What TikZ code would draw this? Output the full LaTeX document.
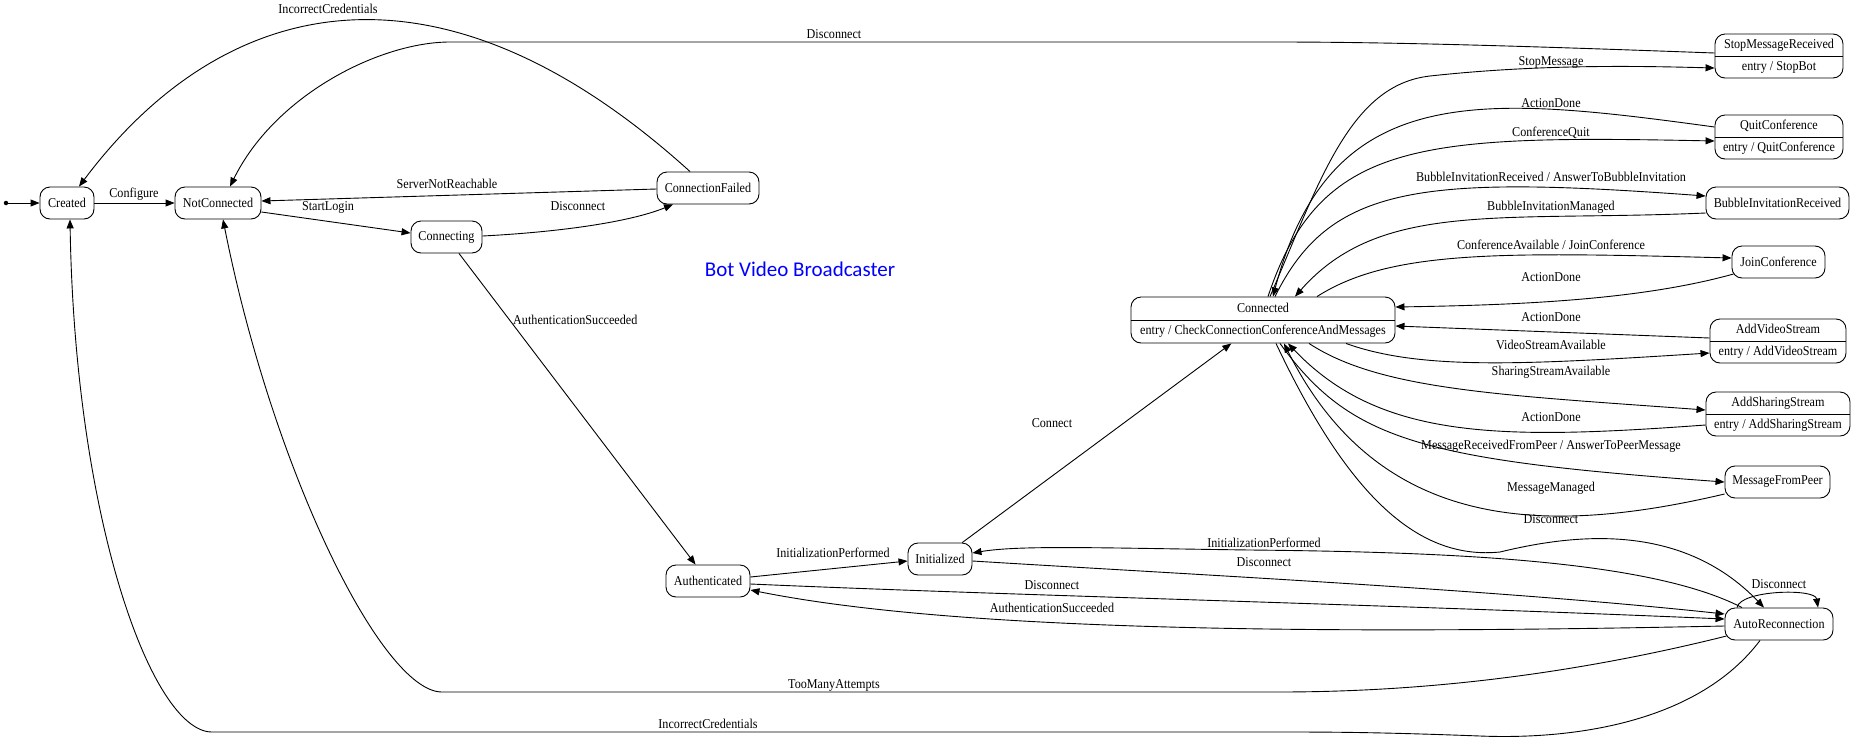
\documentclass[tikz,border=0pt]{standalone}
\usepackage{fontspec}
\setmainfont{Liberation Serif}[FakeStretch=0.9]
\newfontfamily\titlefont{Carlito}
\usetikzlibrary{arrows.meta,calc}
\newcommand{\stfont}{\fontsize{13.5}{16}\selectfont}
\begin{document}
\begin{tikzpicture}[x=1pt,y=-1pt,
  st/.style={draw, rounded corners=10pt, line width=0.9pt, inner sep=0pt, font=\stfont},
  lbl/.style={font=\stfont, inner sep=0pt, text height=9.5pt, text depth=3pt},
  arr/.style={line width=0.9pt, -{Triangle[length=9pt,width=7pt]}},
  ln/.style={line width=0.9pt}]
\fill[white] (0,0) rectangle (1855,745);
\useasboundingbox (0,0) rectangle (1855,745);

% title
\node[font=\titlefont\fontsize{21}{25}\selectfont, text=blue, inner sep=0pt] (title) at (800,269) {Bot Video Broadcaster};

% states
\node[circle, fill, inner sep=0pt, minimum size=4.5pt] (start) at (6,203) {};
\node[st, minimum width=54pt, minimum height=32pt] (created) at (67,203) {Created};
\node[st, minimum width=86pt, minimum height=32pt] (nc) at (218,203) {NotConnected};
\node[st, minimum width=71pt, minimum height=32pt] (conn) at (446.5,237) {Connecting};
\node[st, minimum width=102pt, minimum height=32pt] (cf) at (708,188) {ConnectionFailed};
\node[st, minimum width=84pt, minimum height=32pt] (auth) at (708,581) {Authenticated};
\node[st, minimum width=64pt, minimum height=32pt] (init) at (940,559) {Initialized};

\node[st, minimum width=264pt, minimum height=46pt] (connected) at (1263,320) {};
\draw[ln] (connected.west) -- (connected.east);
\node[lbl] (connectedA) at (1263,309) {Connected};
\node[lbl] (connectedB) at (1263,331) {entry / CheckConnectionConferenceAndMessages};

\node[st, minimum width=128pt, minimum height=44pt] (smr) at (1779,56) {};
\draw[ln] (smr.west) -- (smr.east);
\node[lbl] (smrA) at (1779,45) {StopMessageReceived};
\node[lbl] (smrB) at (1779,67) {entry / StopBot};

\node[st, minimum width=128pt, minimum height=44pt] (qc) at (1779,137) {};
\draw[ln] (qc.west) -- (qc.east);
\node[lbl] (qcA) at (1779,126) {QuitConference};
\node[lbl] (qcB) at (1779,148) {entry / QuitConference};

\node[st, minimum width=143pt, minimum height=32pt] (bir) at (1777.5,203) {BubbleInvitationReceived};
\node[st, minimum width=93pt, minimum height=32pt] (jc) at (1778.5,262) {JoinConference};

\node[st, minimum width=136pt, minimum height=44pt] (avs) at (1778,341) {};
\draw[ln] (avs.west) -- (avs.east);
\node[lbl] (avsA) at (1778,330) {AddVideoStream};
\node[lbl] (avsB) at (1778,352) {entry / AddVideoStream};

\node[st, minimum width=144pt, minimum height=44pt] (ass) at (1778,414) {};
\draw[ln] (ass.west) -- (ass.east);
\node[lbl] (assA) at (1778,403) {AddSharingStream};
\node[lbl] (assB) at (1778,425) {entry / AddSharingStream};

\node[st, minimum width=105pt, minimum height=32pt] (mfp) at (1777.5,482) {MessageFromPeer};
\node[st, minimum width=108pt, minimum height=32pt] (ar) at (1779,624) {AutoReconnection};

% left part edges
\draw[arr] (start) -- (created.west);
\draw[arr] (created.east) -- (nc.west);
\node[lbl] (l1) at (134,194) {Configure};
\draw[arr] ($(nc.east)+(0,9)$) -- ($(conn.west)+(0,-4)$);
\node[lbl] (l2) at (328,207) {StartLogin};
\draw[arr] ($(cf.west)+(0,1)$) -- ($(nc.east)+(0,-2)$);
\node[lbl] (l3) at (447,185) {ServerNotReachable};
\draw[arr] ($(conn.east)+(0,-1)$) .. controls (560,232) and (630,222) .. ($(cf.south)+(-35,0)$);
\node[lbl] (l4) at (578,207) {Disconnect};
\draw[arr] ($(cf.north)+(-18,0)$) .. controls (440,-55) and (225,-8) .. ($(created.north)+(12,0)$);
\node[lbl] (l5) at (328,10) {IncorrectCredentials};
\draw[arr] ($(smr.west)+(0,-3)$) .. controls (1550,47) and (1400,42) .. (1276,42) -- (450,42) .. controls (380,42) and (275,95) .. ($(nc.north)+(12,0)$);
\node[lbl] (l6) at (834,35) {Disconnect};
\draw[arr] (conn) -- (auth);
\node[lbl, anchor=west] (l7) at (513,321) {AuthenticationSucceeded};
\draw[arr] ($(auth.east)+(0,-4)$) -- ($(init.west)+(0,2)$);
\node[lbl] (l8) at (833,554) {InitializationPerformed};
\draw[arr] (init) -- (connected);
\node[lbl] (l9) at (1052,424) {Connect};

% upper fan
\draw[arr] ($(connected.north)+(7,0)$) .. controls (1320,180) and (1350,85) .. (1430,76) .. controls (1540,64) and (1640,66) .. ($(smr.west)+(0,12)$);
\node[lbl] (u1) at (1551,62) {StopMessage};
\draw[arr] ($(qc.west)+(0,-10)$) .. controls (1480,95) and (1330,80) .. ($(connected.north)+(10,0)$);
\node[lbl] (u2) at (1551,104) {ActionDone};
\draw[arr] ($(connected.north)+(5,0)$) .. controls (1320,140) and (1420,135) .. ($(qc.west)+(0,4)$);
\node[lbl] (u3) at (1551,133) {ConferenceQuit};
\draw[arr] ($(connected.north)+(12,0)$) .. controls (1330,185) and (1420,175) .. ($(bir.west)+(0,-7)$);
\node[lbl] (u4) at (1551,178) {BubbleInvitationReceived / AnswerToBubbleInvitation};
\draw[arr] ($(bir.west)+(0,10)$) .. controls (1500,222) and (1380,200) .. ($(connected.north)+(32,0)$);
\node[lbl] (u5) at (1551,207) {BubbleInvitationManaged};
\draw[arr] ($(connected.north)+(54,0)$) .. controls (1390,250) and (1500,252) .. ($(jc.west)+(0,-4)$);
\node[lbl] (u6) at (1551,246) {ConferenceAvailable / JoinConference};

% right / lower fan
\draw[arr] ($(jc.west)+(2,12)$) .. controls (1640,300) and (1520,305) .. ($(connected.east)+(0,-13)$);
\node[lbl] (r1) at (1551,278) {ActionDone};
\draw[arr] ($(avs.west)+(0,-3)$) -- ($(connected.east)+(0,6)$);
\node[lbl] (r2) at (1551,318) {ActionDone};
\draw[arr] ($(connected.south)+(83,0)$) .. controls (1420,370) and (1520,365) .. ($(avs.west)+(0,12)$);
\node[lbl] (r3) at (1551,346) {VideoStreamAvailable};
\draw[arr] ($(connected.south)+(46,0)$) .. controls (1380,390) and (1500,395) .. ($(ass.west)+(0,-4)$);
\node[lbl] (r4) at (1551,372) {SharingStreamAvailable};
\draw[arr] ($(ass.west)+(0,11)$) .. controls (1500,440) and (1380,440) .. ($(connected.south)+(25,0)$);
\node[lbl] (r5) at (1551,418) {ActionDone};
\draw[arr] ($(connected.south)+(17,0)$) .. controls (1350,440) and (1420,460) .. (mfp.west);
\node[lbl] (r6) at (1551,446) {MessageReceivedFromPeer / AnswerToPeerMessage};
\draw[arr] ($(mfp.west)+(0,12)$) .. controls (1550,535) and (1380,535) .. ($(connected.south)+(21,0)$);
\node[lbl] (r7) at (1551,488) {MessageManaged};
\draw[arr] ($(connected.south)+(13,0)$) .. controls (1350,500) and (1420,560) .. (1500,552) .. controls (1570,535) and (1680,520) .. ($(ar.north)+(-15,0)$);
\node[lbl] (r8) at (1551,520) {Disconnect};

% bottom edges
\draw[arr] ($(ar.north)+(-37,0)$) .. controls (1650,560) and (1450,552) .. (1250,550) .. controls (1100,548) and (1020,545) .. ($(init.east)+(0,-6)$);
\node[lbl] (b1) at (1264,544) {InitializationPerformed};
\draw[arr] ($(init.east)+(0,2)$) .. controls (1200,575) and (1500,590) .. ($(ar.west)+(0,-10)$);
\node[lbl] (b2) at (1264,563) {Disconnect};
\draw[arr] ($(auth.east)+(0,3)$) .. controls (1000,595) and (1400,605) .. ($(ar.west)+(0,-5)$);
\node[lbl] (b3) at (1052,586) {Disconnect};
\draw[arr] ($(ar.west)+(0,2)$) .. controls (1300,635) and (950,630) .. ($(auth.east)+(0,9)$);
\node[lbl] (b4) at (1052,609) {AuthenticationSucceeded};
\draw[arr] ($(ar.west)+(2,12)$) .. controls (1550,680) and (1400,692) .. (1278,692) -- (442,692) .. controls (382,692) and (273,471) .. ($(nc.south)+(5,0)$);
\node[lbl] (b5) at (834,685) {TooManyAttempts};
\draw[arr] ($(ar.south)+(-19,0)$) .. controls (1700,720) and (1580,740) .. (1480,736) .. controls (1400,733) and (1350,732) .. (1290,732) -- (212,732) .. controls (152,732) and (75,520) .. ($(created.south)+(3,0)$);
\node[lbl] (b6) at (708,725) {IncorrectCredentials};
\draw[arr] ($(ar.north)+(-42,0)$) .. controls (1740,590) and (1815,588) .. ($(ar.north)+(39,0)$);
\node[lbl] (b7) at (1779,585) {Disconnect};
\end{tikzpicture}
\end{document}
